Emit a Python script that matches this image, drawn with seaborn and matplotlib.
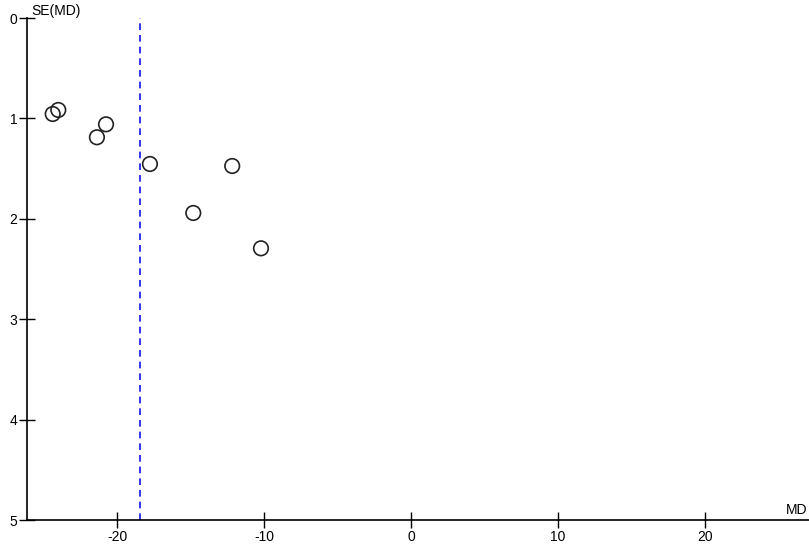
import matplotlib
matplotlib.use("Agg")
import matplotlib.pyplot as plt
import seaborn as sns
import pandas as pd

md = [-24.41, -24.03, -20.78, -21.40, -17.79, -12.19, -14.84, -10.23]
se = [0.956, 0.916, 1.059, 1.188, 1.454, 1.474, 1.942, 2.294]
pooled_md = -18.47
x_ticks = [-20, -10, 0, 10, 20]
y_ticks = [0, 1, 2, 3, 4, 5]

sns.set_style("white")
plt.rcParams['font.family'] = ['Liberation Sans', 'DejaVu Sans']
plt.rcParams['text.color'] = 'black'
plt.rcParams['xtick.color'] = 'black'
plt.rcParams['ytick.color'] = 'black'

df = pd.DataFrame({"MD": md, "SE": se})

fig = plt.figure(figsize=(8.09, 5.44), dpi=100)
ax = fig.add_axes([27/809, 1-520/544, 1-27/809, (520-18)/544])

ax.axvline(pooled_md, color="#1010ee", linestyle=(0, (4, 3)), linewidth=1.2, zorder=1)
sns.scatterplot(data=df, x="MD", y="SE", ax=ax, s=110, facecolors="none",
                edgecolor="#222222", linewidth=1.2, marker="o", zorder=3)

ax.set_xlim(-26.16, 27.08)
ax.set_ylim(5, 0)
ax.set_xticks(x_ticks)
ax.set_yticks(y_ticks)
ax.set_xticklabels([str(t) for t in x_ticks])
ax.set_yticklabels([str(t) for t in y_ticks])
ax.set_xlabel("")
ax.set_ylabel("")
ax.tick_params(axis="both", bottom=True, left=True, direction="inout", length=12,
               width=1, colors="black", labelsize=10, pad=1)
for s in ["top", "right"]:
    ax.spines[s].set_visible(False)
for s in ["left", "bottom"]:
    ax.spines[s].set_color("black")
    ax.spines[s].set_linewidth(1.2)

ax.text(0.005, 1.0, "SE(MD)", transform=ax.transAxes, fontsize=10, va="bottom", ha="left")
ax.text(0.998, 0.005, "MD", transform=ax.transAxes, fontsize=10, va="bottom", ha="right")

fig.savefig("out.png", dpi=100)
